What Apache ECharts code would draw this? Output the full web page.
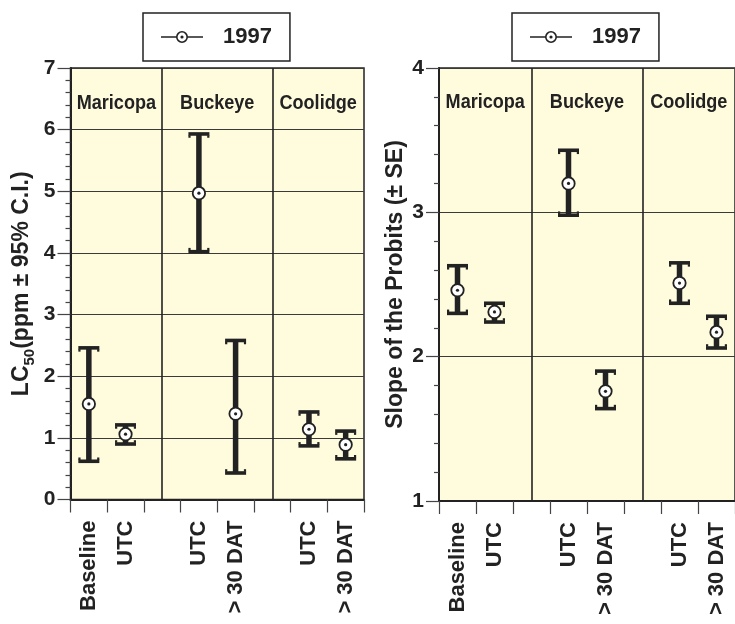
<!DOCTYPE html>
<html>
<head>
<meta charset="utf-8">
<script src="https://cdn.jsdelivr.net/npm/echarts@6/dist/echarts.min.js"></script>
<style>
  html, body { margin: 0; padding: 0; background: #fff; }
  #chart { width: 735px; height: 624px; }
</style>
</head>
<body>
<div id="chart"></div>
<script>
// categories along the x axis ('' = empty slot between sites)
var categories = ['Baseline', 'UTC', '', 'UTC', '> 30 DAT', '', 'UTC', '> 30 DAT'];
var groups = ['Maricopa', 'Buckeye', 'Coolidge'];
var dividers = [2, 5];            // category slots holding the site separators
var pointSlot = [0, 1, 3, 4, 6, 7];
var seriesName = '1997';

// LC50 (ppm) with 95% C.I.
var lc50Mean = [1.55, 1.06, 4.97, 1.39, 1.14, 0.89];
var lc50Low  = [0.62, 0.90, 4.02, 0.43, 0.87, 0.66];
var lc50High = [2.46, 1.21, 5.93, 2.58, 1.42, 1.11];

// slope of the probits with SE
var slopeMean = [2.46, 2.31, 3.20, 1.76, 2.51, 2.17];
var slopeLow  = [2.30, 2.24, 2.98, 1.64, 2.37, 2.06];
var slopeHigh = [2.63, 2.37, 3.43, 1.90, 2.65, 2.28];

var groupLabelY = [6.43, 3.76];   // height of the site names (value units)

var ink = '#222';
var fontMain = 'Liberation Sans, Arial, sans-serif';

var iconPath = 'path://M0 5.3H15.2V6.7H0Z M26.8 5.3H42V6.7H26.8Z ' +
  'M15 6A6 6 0 1 1 27 6A6 6 0 1 1 15 6Z ' +
  'M16.6 6A4.4 4.4 0 1 0 25.4 6A4.4 4.4 0 1 0 16.6 6Z ' +
  'M19.4 6A1.6 1.6 0 1 1 22.6 6A1.6 1.6 0 1 1 19.4 6Z';

function makeData(mean, low, high) {
  return pointSlot.map(function (s, i) { return [s, mean[i], low[i], high[i]]; });
}

function groupData(yv) {
  var edges = [-0.5].concat(dividers, [categories.length - 0.5]);
  return groups.map(function (g, i) {
    return { value: [(edges[i] + edges[i + 1]) / 2, yv], name: g };
  });
}

function renderBar(params, api) {
  var x = api.value(0);
  var c = api.coord([x, api.value(1)]);
  var lo = api.coord([x, api.value(2)]);
  var hi = api.coord([x, api.value(3)]);
  var hw = 10.5, th = 3.6;
  function cap(y, dir) {
    var sy = dir > 0 ? y + th / 2 - 0.5 : y - th / 2 - 2;
    return [
      { type: 'rect', shape: { x: c[0] - hw, y: y - th / 2, width: hw * 2, height: th }, style: { fill: ink } },
      { type: 'rect', shape: { x: c[0] - hw, y: sy, width: 2.2, height: 2.5 }, style: { fill: ink } },
      { type: 'rect', shape: { x: c[0] + hw - 2.2, y: sy, width: 2.2, height: 2.5 }, style: { fill: ink } }
    ];
  }
  var children = [
    { type: 'rect', shape: { x: c[0] - 2.75, y: hi[1], width: 5.5, height: lo[1] - hi[1] }, style: { fill: ink } }
  ].concat(cap(hi[1], 1), cap(lo[1], -1), [
    { type: 'circle', shape: { cx: c[0], cy: c[1], r: 6.2 }, style: { fill: '#fff', stroke: ink, lineWidth: 1.8 } },
    { type: 'circle', shape: { cx: c[0], cy: c[1], r: 1.6 }, style: { fill: ink } }
  ]);
  return { type: 'group', children: children };
}

function renderGroup(params, api) {
  var p = api.coord([api.value(0), api.value(1)]);
  return {
    type: 'text', x: p[0], y: p[1], scaleX: 0.86, scaleY: 1,
    style: {
      text: groups[params.dataIndex], fill: ink,
      font: 'bold 21px ' + fontMain, align: 'center', verticalAlign: 'middle'
    }
  };
}

function catAxis(gridIndex) {
  return {
    type: 'category', gridIndex: gridIndex, data: categories,
    boundaryGap: true,
    axisLine: { show: true, onZero: false, lineStyle: { color: ink, width: 2 } },
    axisTick: { show: true, inside: false, length: 13, interval: 0, lineStyle: { color: '#444', width: 1.2 } },
    axisLabel: { interval: 0, rotate: 90, margin: 21, color: ink, fontFamily: fontMain, fontWeight: 'bold', fontSize: 22 },
    splitLine: { show: false }
  };
}

function hiddenAxis(gridIndex) {
  return { type: 'value', gridIndex: gridIndex, min: -0.5, max: categories.length - 0.5, show: false, position: 'top' };
}

function valAxis(gridIndex, min, max, name, rich, gap) {
  return {
    type: 'value', gridIndex: gridIndex, min: min, max: max, interval: 1,
    name: name, nameLocation: 'middle', nameGap: gap,
    nameTextStyle: { color: ink, fontFamily: fontMain, fontWeight: 'bold', fontSize: 23, rich: rich },
    axisLine: { show: true, onZero: false, lineStyle: { color: ink, width: 2 } },
    axisTick: { show: true, inside: false, length: 13, lineStyle: { color: '#444', width: 1.2 } },
    minorTick: { show: true, splitNumber: 5, length: 5, lineStyle: { color: '#444', width: 1.2 } },
    axisLabel: { margin: 15, color: ink, fontFamily: fontMain, fontWeight: 'bold', fontSize: 21 },
    splitLine: { show: true, lineStyle: { color: '#3a3a3a', width: 1 } }
  };
}

function legendAt(left) {
  return {
    left: left, top: 13, orient: 'horizontal',
    data: [{ name: seriesName, icon: iconPath }],
    itemWidth: 42, itemHeight: 12,
    padding: [13, 18, 13, 18],
    borderColor: ink, borderWidth: 1.5, backgroundColor: '#fff',
    itemStyle: { color: ink, borderWidth: 0 },
    selectedMode: false,
    formatter: function (n) { return '{t|' + n + '}'; },
    textStyle: { rich: { t: { padding: [0, 0, 0, 15], fontFamily: fontMain, fontWeight: 'bold', fontSize: 22, color: ink } } }
  };
}

function errorSeries(idx, data) {
  return {
    name: seriesName, type: 'custom', xAxisIndex: idx * 2, yAxisIndex: idx,
    data: data, encode: { x: 0, y: [1, 2, 3] },
    itemStyle: { color: ink },
    renderItem: renderBar, z: 5
  };
}

function groupSeries(idx) {
  return {
    name: 'sites' + idx, type: 'custom', xAxisIndex: idx * 2 + 1, yAxisIndex: idx,
    silent: true, z: 4,
    data: groupData(groupLabelY[idx]),
    encode: { x: 0, y: 1 },
    renderItem: renderGroup,
    markLine: {
      silent: true, symbol: 'none', label: { show: false },
      lineStyle: { color: ink, width: 1.6, type: 'solid', opacity: 1 },
      emphasis: { disabled: true },
      data: dividers.map(function (d) { return { xAxis: d }; })
    }
  };
}

var chart = echarts.init(document.getElementById('chart'), null, { renderer: 'canvas' });

var option = {
  animation: false,
  backgroundColor: '#fff',
  legend: [legendAt(143), legendAt(512)],
  grid: [
    { left: 70.5, top: 68, width: 293.5, height: 431.5, show: true, backgroundColor: '#fffbdd', borderColor: ink, borderWidth: 1.5 },
    { left: 439, top: 68, width: 299, height: 433, show: true, backgroundColor: '#fffbdd', borderColor: ink, borderWidth: 1.5 }
  ],
  xAxis: [catAxis(0), hiddenAxis(0), catAxis(1), hiddenAxis(1)],
  yAxis: [
    valAxis(0, 0, 7, '{a|LC}{s|50}{a|(ppm \u00b1 95% C.I.)}', {
      a: { fontFamily: fontMain, fontWeight: 'bold', fontSize: 23, color: ink, lineHeight: 32, verticalAlign: 'middle' },
      s: { fontFamily: fontMain, fontWeight: 'bold', fontSize: 15, color: ink, lineHeight: 32, verticalAlign: 'bottom' }
    }, 33),
    valAxis(1, 1, 4, '{a|Slope of the Probits (\u00b1 SE)}', {
      a: { fontFamily: fontMain, fontWeight: 'bold', fontSize: 23, color: ink }
    }, 32)
  ],
  series: [
    errorSeries(0, makeData(lc50Mean, lc50Low, lc50High)),
    errorSeries(1, makeData(slopeMean, slopeLow, slopeHigh)),
    groupSeries(0),
    groupSeries(1)
  ]
};

chart.setOption(option);
</script>
</body>
</html>
